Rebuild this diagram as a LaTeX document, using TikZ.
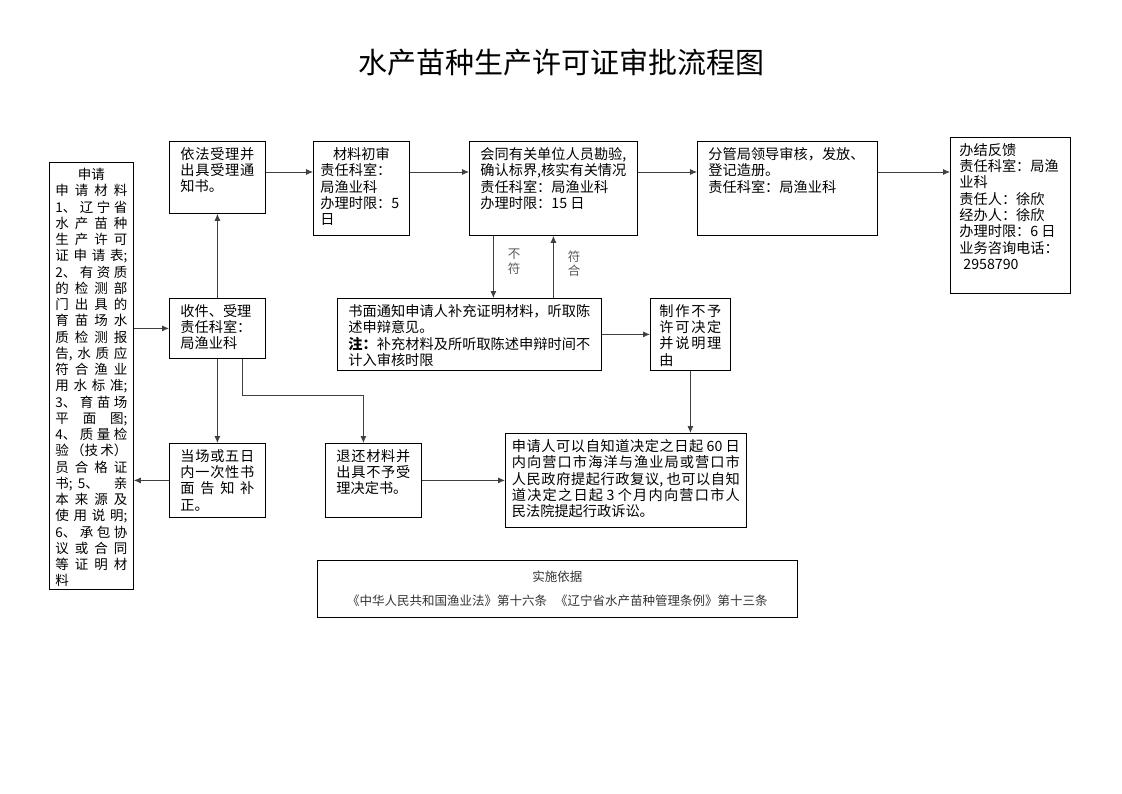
\documentclass[tikz,border=0pt]{standalone}
\usepackage{fontspec}
\setmainfont{Noto Sans CJK SC}
\usetikzlibrary{positioning}
\usetikzlibrary{arrows.meta}
\XeTeXlinebreaklocale "zh"
\XeTeXlinebreakskip=0pt plus 10pt
\tolerance=10000

\tikzset{
  box/.style={rectangle, draw=black, line width=0.8pt, inner sep=0pt, anchor=north west},
  flow/.style={draw=black!75, line width=0.8pt, -{Latex[length=7pt,width=6pt]}},
  flowlabel/.style={font=\fontsize{12.5}{14.5}\selectfont, text=black!65, align=center, inner sep=1pt},
}
% top aligned text in a box: width, height, text
\newcommand{\boxtext}[3]{\parbox[c][\dimexpr#2-12pt\relax][t]{\dimexpr#1-22pt\relax}{\fontsize{14.2}{16.3}\selectfont #3}}

\begin{document}
\begin{tikzpicture}[x=1pt, y=-1pt]
	\useasboundingbox (0,0) rectangle (1122,793);
	\node[font=\fontsize{29}{33}\selectfont](title) at (561,62){水产苗种生产许可证审批流程图};

	\node[box, minimum width=84pt, minimum height=427pt](apply) at (49,162){\parbox[c][415pt][t]{72pt}{\fontsize{13.5}{16.25}\selectfont
		\makebox[\linewidth]{申请}\par
		申请材料\linebreak 1、辽宁省\linebreak 水产苗种\linebreak 生产许可\linebreak 证申请表;\linebreak
		2、有资质\linebreak 的检测部\linebreak 门出具的\linebreak 育苗场水\linebreak 质检测报\linebreak 告,水质应\linebreak 符合渔业\linebreak 用水标准;\linebreak
		3、育苗场\linebreak 平面图;\linebreak 4、质量检\linebreak 验（技术）\linebreak 员合格证\linebreak 书;\ 5、亲\linebreak 本来源及\linebreak 使用说明;\linebreak
		6、承包协\linebreak 议或合同\linebreak 等证明材\linebreak 料}};

	\node[box, minimum width=96pt, minimum height=72pt](accept) at (169,141){\boxtext{96pt}{72pt}{依法受理并\linebreak 出具受理通\linebreak 知书。}};
	\node[box, minimum width=96pt, minimum height=94pt](firstcheck) at (313,141){\boxtext{104pt}{94pt}{\makebox[\linewidth]{材料初审}\par 责任科室：\\ 局渔业科\\ 办理时限：5\\ 日}};
	\node[box, minimum width=168pt, minimum height=94pt](survey) at (469,141){\boxtext{168pt}{94pt}{会同有关单位人员勘验,\linebreak 确认标界,核实有关情况\\ 责任科室：局渔业科\\ 办理时限：15 日}};
	\node[box, minimum width=180pt, minimum height=94pt](leader) at (697,141){\boxtext{180pt}{94pt}{分管局领导审核，发放、\\ 登记造册。\\ 责任科室：局渔业科}};
	\node[box, minimum width=120pt, minimum height=156pt](finish) at (950,137){\parbox[c][144pt][t]{102pt}{\fontsize{14.2}{16.3}\selectfont 办结反馈\\ 责任科室：局渔\\ 业科\\ 责任人：徐欣\\ 经办人：徐欣\\ 办理时限：6 日\\ 业务咨询电话：\\ \hspace*{4pt}2958790}};

	\node[box, minimum width=96pt, minimum height=60pt](receive) at (169,298){\boxtext{96pt}{60pt}{收件、受理\\ 责任科室：\\ 局渔业科}};
	\node[box, minimum width=264pt, minimum height=72pt](notify) at (337,298){\boxtext{264pt}{72pt}{书面通知申请人补充证明材料，听取陈\linebreak 述申辩意见。\\ \textbf{注：}补充材料及所听取陈述申辩时间不\linebreak 计入审核时限}};
	\node[box, minimum width=80pt, minimum height=72pt](refuse) at (650,298){\boxtext{84pt}{72pt}{制作不予\linebreak 许可决定\linebreak 并说明理\linebreak 由}};

	\node[box, minimum width=96pt, minimum height=74pt](correct) at (169,443){\boxtext{96pt}{74pt}{当场或五日\linebreak 内一次性书\linebreak 面告知补\linebreak 正。}};
	\node[box, minimum width=96pt, minimum height=74pt](giveback) at (325,443){\boxtext{96pt}{74pt}{退还材料并\linebreak 出具不予受\linebreak 理决定书。}};
	\node[box, minimum width=241pt, minimum height=94pt](appeal) at (505,433){\boxtext{250pt}{94pt}{申请人可以自知道决定之日起~60~日\linebreak 内向营口市海洋与渔业局或营口市\linebreak 人民政府提起行政复议,~也可以自知\linebreak 道决定之日起~3~个月内向营口市人\linebreak 民法院提起行政诉讼。}};

	\node[box, minimum width=480pt, minimum height=57pt, align=center, font=\fontsize{12.5}{24}\selectfont, text=black!80](basis) at (317,560){实施依据\\ 《中华人民共和国渔业法》第十六条\hspace{8pt}《辽宁省水产苗种管理条例》第十三条};

	\coordinate (row) at (0,172);
	\draw[flow] (receive.west -| apply.east) -- (receive.west);
	\draw[flow] (receive.north) -- (accept.south);
	\draw[flow] (accept.east |- row) -- (firstcheck.west |- row);
	\draw[flow] (firstcheck.east |- row) -- (survey.west |- row);
	\draw[flow] (survey.east |- row) -- (leader.west |- row);
	\draw[flow] (leader.east |- row) -- (finish.west |- row);

	\draw[flow] ([xshift=-60pt]survey.south) -- ([xshift=-60pt]survey.south |- notify.north) node[flowlabel, pos=0.42, right=13pt]{不\\符};
	\draw[flow] (notify.north -| survey.south) -- (survey.south) node[flowlabel, pos=0.55, right=13pt]{符\\合};
	\draw[flow] (notify.east) -- (notify.east -| refuse.west);
	\draw[flow] (refuse.south) -- (refuse.south |- appeal.north);

	\draw[flow] (receive.south) -- (correct.north);
	\draw[flow] ([xshift=25pt]receive.south) |- ([xshift=-10pt]giveback.north |- 0,395) -- ([xshift=-10pt]giveback.north);
	\draw[flow] (correct.west) -- (correct.west -| apply.east);
	\draw[flow] (giveback.east) -- (giveback.east -| appeal.west);
\end{tikzpicture}
\end{document}
